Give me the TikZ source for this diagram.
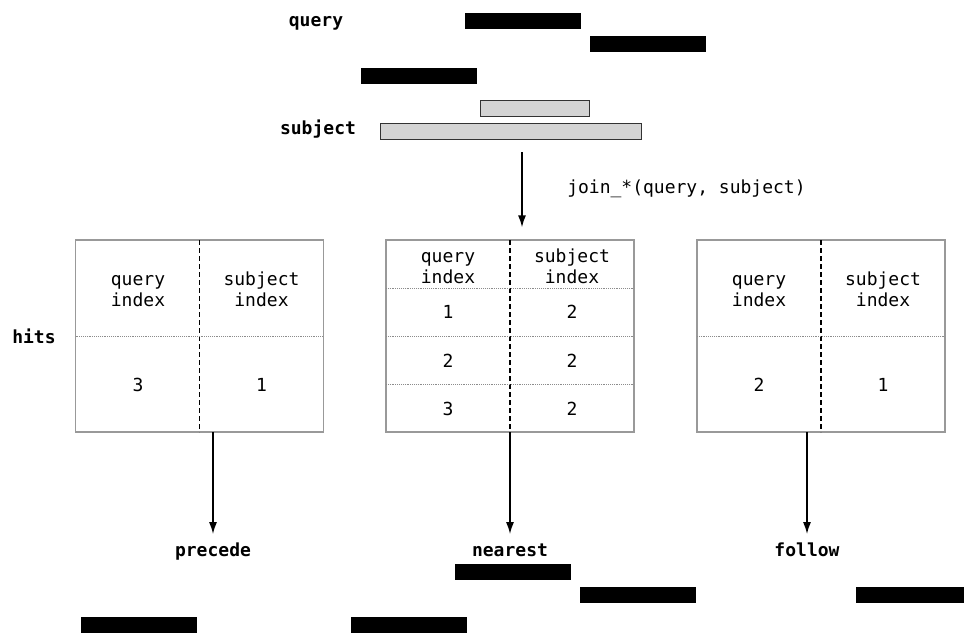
\documentclass[tikz,border=0pt]{standalone}
\usepackage{fontspec}
\setmonofont{DejaVu Sans Mono}
\usetikzlibrary{arrows.meta,calc}
\begin{document}
\begin{tikzpicture}[x=0.75pt,y=-0.75pt,
 every node/.style={font=\ttfamily\fontsize{13.5}{15.75}\selectfont},
 lbl/.style={font=\ttfamily\bfseries\fontsize{13.5}{15.75}\selectfont, inner sep=0pt, text height=9.5pt, text depth=3pt},
 qbar/.style={fill=black, draw=none, minimum width=87pt, minimum height=12pt, inner sep=0pt, outer sep=0pt},
 sbar/.style={fill=black!17, draw=black!80, line width=0.6pt, minimum height=12pt, inner sep=0pt, outer sep=0pt},
 tabbox/.style={draw=black!40, line width=0.8pt, minimum width=186pt, minimum height=144pt, inner sep=0pt, outer sep=0pt},
 divider/.style={line width=1.1pt, dash pattern=on 3.75pt off 2.25pt},
 sepline/.style={draw=black!45, line width=0.4pt, densely dotted},
 arr/.style={line width=1.1pt, -{Latex[length=9pt,width=6pt]}},
 cell/.style={align=center, inner sep=0pt}
]
\useasboundingbox (0,0) rectangle (964,632);
\clip (0,0) rectangle (964,632);
\fill[white] (0,0) rectangle (964,632);

% top: query and subject
\node[lbl] (ql) at (316,22) {query};
\node[qbar] (q1) at (523,21) {};
\node[qbar] (q2) at (648,44) {};
\node[qbar] (q3) at (419,76) {};
\node[sbar, minimum width=81.75pt] (s1) at (534.5,108) {};
\node[sbar, minimum width=195.75pt] (s2) at (510.5,131) {};
\node[lbl] (sl) at (318,130) {subject};

% join arrow
\coordinate (j1) at (522,152);
\node[tabbox] (mt) at (510,336) {};
\draw[arr] (j1) -- ([yshift=9.5pt]mt.north -| j1);
\node[anchor=west, inner sep=0pt] (jl) at (567,189) {join\_*(query, subject)};

% hits label
\node[lbl] (hits) at (34,339) {hits};

% left table
\node[tabbox] (lt) at (199.5,336) {};
\draw[divider] (lt.north) -- (lt.south);
\draw[sepline] (lt.west) -- (lt.east);
\node[cell] (lq) at (138,291.5) {\strut query\\\strut index};
\node[cell] (ls) at (261.5,291.5) {\strut subject\\\strut index};
\node[cell] (lv1) at (138,385) {3};
\node[cell] (lv2) at (261.5,385) {1};

% middle table
\draw[divider] (mt.north) -- (mt.south);
\draw[sepline] ($(mt.north west)!.25!(mt.south west)$) -- ($(mt.north east)!.25!(mt.south east)$);
\draw[sepline] (mt.west) -- (mt.east);
\draw[sepline] ($(mt.north west)!.75!(mt.south west)$) -- ($(mt.north east)!.75!(mt.south east)$);
\node[cell] (mq) at (448,269) {\strut query\\\strut index};
\node[cell] (ms) at (572,269) {\strut subject\\\strut index};
\node[cell] (ma1) at (448,312) {1};
\node[cell] (mb1) at (572,312) {2};
\node[cell] (ma2) at (448,361) {2};
\node[cell] (mb2) at (572,361) {2};
\node[cell] (ma3) at (448,409) {3};
\node[cell] (mb3) at (572,409) {2};

% right table
\node[tabbox] (rt) at (821,336) {};
\draw[divider] (rt.north) -- (rt.south);
\draw[sepline] (rt.west) -- (rt.east);
\node[cell] (rq) at (759,291.5) {\strut query\\\strut index};
\node[cell] (rs) at (883,291.5) {\strut subject\\\strut index};
\node[cell] (rv1) at (759,385) {2};
\node[cell] (rv2) at (883,385) {1};

% bottom labels and arrows
\node[lbl] (prec) at (213,552) {precede};
\node[lbl] (near) at (510,552) {nearest};
\node[lbl] (foll) at (807,552) {follow};
\draw[arr] (lt.south -| prec.north) -- ([yshift=7pt]prec.north);
\draw[arr] (mt.south -| near.north) -- ([yshift=7pt]near.north);
\draw[arr] (rt.south -| foll.north) -- ([yshift=7pt]foll.north);

% result bars
\node[qbar] (n1) at (512.5,572) {};
\node[qbar] (n2) at (637.5,595) {};
\node[qbar] (n3) at (408.5,625) {};
\node[qbar] (p1) at (139,625) {};
\node[qbar] (f1) at (914,595) {};
\end{tikzpicture}
\end{document}
